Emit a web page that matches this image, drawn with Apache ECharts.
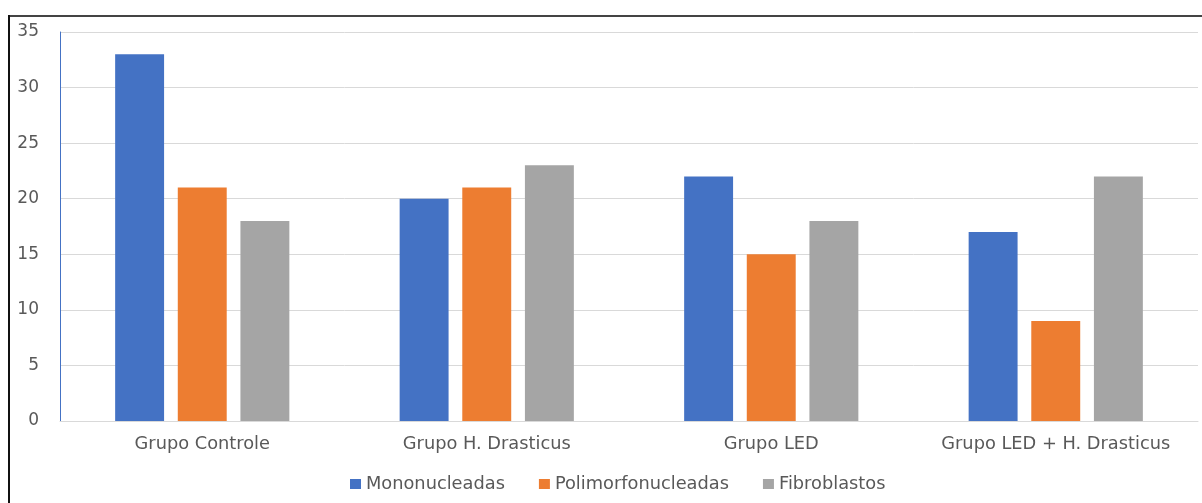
<!DOCTYPE html>
<html>
<head>
<meta charset="utf-8">
<script src="https://cdn.jsdelivr.net/npm/echarts@6/dist/echarts.min.js"></script>
<style>
  html, body { margin: 0; padding: 0; background: #fff; }
  #chart { width: 1202px; height: 503px; }
</style>
</head>
<body>
<div id="chart"></div>
<script>
// dados do gráfico
const categories = ['Grupo Controle', 'Grupo H. Drasticus', 'Grupo LED', 'Grupo LED + H. Drasticus'];
const mononucleadas = [33, 20, 22, 17];
const polimorfonucleadas = [21, 21, 15, 9];
const fibroblastos = [18, 23, 18, 22];

const myChart = echarts.init(document.getElementById('chart'));
const font = 'DejaVu Sans';
const option = {
    animation: false,
    backgroundColor: '#fff',
    graphic: [
        // moldura (topo e esquerda)
        { type: 'line', shape: { x1: 8, y1: 16, x2: 1202, y2: 16 }, style: { stroke: '#444', lineWidth: 2 } },
        { type: 'line', shape: { x1: 9, y1: 15, x2: 9, y2: 503 }, style: { stroke: '#111', lineWidth: 2 } },
    ],
    grid: { left: 60, right: 4, top: 32, bottom: 82 },
    legend: {
        top: 470,
        left: 345,
        itemWidth: 11,
        itemHeight: 10,
        itemGap: 34,
        icon: 'rect',
        textStyle: { fontFamily: font, fontSize: 17.8, color: '#595959' },
    },
    xAxis: {
        type: 'category',
        data: categories,
        axisTick: { show: false },
        axisLine: { lineStyle: { color: '#d9d9d9', width: 1 } },
        axisLabel: { interval: 0, fontFamily: font, fontSize: 17.8, color: '#595959', margin: 14 },
    },
    yAxis: {
        type: 'value',
        min: 0,
        max: 35,
        interval: 5,
        axisLine: { show: true, lineStyle: { color: '#4472c4', width: 1 } },
        axisTick: { show: false },
        axisLabel: { fontFamily: font, fontSize: 17, color: '#595959', margin: 21 },
        splitLine: { lineStyle: { color: '#d9d9d9', width: 1 } },
    },
    series: [
        { name: 'Mononucleadas', type: 'bar', data: mononucleadas, barWidth: '17.2%', barGap: '28%', itemStyle: { color: '#4472c4' } },
        { name: 'Polimorfonucleadas', type: 'bar', data: polimorfonucleadas, barWidth: '17.2%', itemStyle: { color: '#ed7d31' } },
        { name: 'Fibroblastos', type: 'bar', data: fibroblastos, barWidth: '17.2%', itemStyle: { color: '#a5a5a5' } },
    ],
};
myChart.setOption(option);
window.addEventListener('resize', () => {
    myChart.resize();
});
</script>
</body>
</html>
